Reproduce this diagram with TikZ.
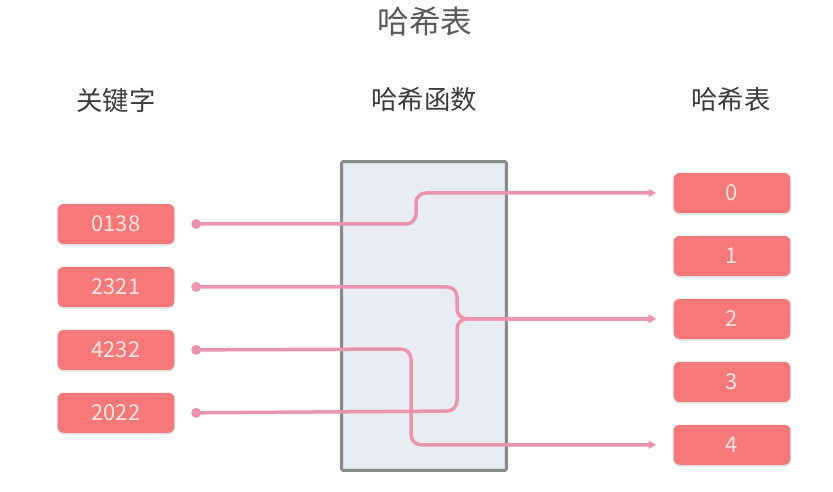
\documentclass[tikz,border=0pt]{standalone}
\usepackage{fontspec}
\setmainfont{Noto Sans CJK SC}
\usepackage{xcolor}
\usepackage{tikz}
\usetikzlibrary{
  arrows.meta,
  positioning,
  shadows
}
\definecolor{keyred}{RGB}{247,120,120}
\definecolor{keytext}{RGB}{252,228,228}
\definecolor{linkpink}{RGB}{236,147,174}
\definecolor{funcgray}{RGB}{233,236,240}
\definecolor{funcedge}{RGB}{138,138,138}
\definecolor{headgray}{RGB}{60,60,60}

\begin{document}
\begin{tikzpicture}[
  x=0.02cm, y=-0.02cm,
  box/.style={
    rectangle, rounded corners=3.5pt,
    fill=keyred, text=keytext,
    minimum width=2.34cm, minimum height=0.8cm,
    font=\fontsize{12.5}{13}\selectfont,
    drop shadow={shadow xshift=0pt, shadow yshift=-1pt, opacity=0.25}
  },
  head/.style={font=\fontsize{15}{16}\selectfont, text=headgray},
  dot/.style={circle, fill=linkpink, inner sep=0pt, minimum size=0.2cm},
  link/.style={-{Triangle[length=0.15cm,width=0.16cm]}, line width=0.07cm,
    linkpink, rounded corners=0.2cm, shorten >=0.34cm}
]
  \useasboundingbox (0,0) rectangle (833,492);

  \node[font=\fontsize{18}{20}\selectfont, text=black!65] (title) at (425,22) {哈希表};

  % column heads
  \node[head] (keyhead) at (116,100) {关键字};
  \node[head] (funchead) at (424,100) {哈希函数};
  \node[head] (tablehead) at (731,100) {哈希表};

  % hash function
  \node[draw=funcedge, fill=funcgray, line width=0.06cm, rounded corners=1pt,
    minimum width=3.3cm, minimum height=6.18cm, inner sep=0pt] (hash) at (424,316) {};

  % keys
  \node[box] (key1) at (116,224) {0138};
  \node[box, below=0.445cm of key1] (key2) {2321};
  \node[box, below=0.445cm of key2] (key3) {4232};
  \node[box, below=0.445cm of key3] (key4) {2022};

  % slots
  \node[box] (slot0) at (732,193) {0};
  \node[box, below=0.445cm of slot0] (slot1) {1};
  \node[box, below=0.445cm of slot1] (slot2) {2};
  \node[box, below=0.445cm of slot2] (slot3) {3};
  \node[box, below=0.445cm of slot3] (slot4) {4};

  \node[dot, right=0.32cm of key1] (d1) {};
  \node[dot, right=0.32cm of key2] (d2) {};
  \node[dot, right=0.32cm of key3] (d3) {};
  \node[dot, right=0.32cm of key4] (d4) {};

  \draw[link] (d1.center) -- (416,224) |- (slot0.west);
  \draw[link] (d2.center) -- (457,287) |- (slot2.west);
  \draw[link] (d4.center) -- (457,411) |- (slot2.west);
  \draw[link] (d3.center) -- (411,349) |- (slot4.west);
\end{tikzpicture}
\end{document}
